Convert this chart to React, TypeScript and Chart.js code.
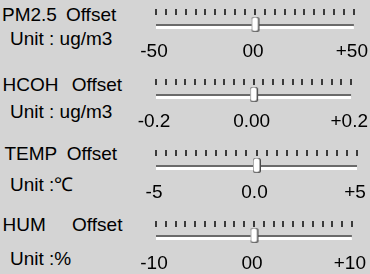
import React, { useEffect, useRef } from 'react';
import { Chart, registerables } from 'chart.js';
Chart.register(...registerables);

// ---- data ----
const titles = ['PM2.5 Offset', 'HCOH Offset', 'TEMP Offset', 'HUM    Offset'];
const units = ['Unit : ug/m3', 'Unit : ug/m3', 'Unit :℃', 'Unit :%'];
const mins = [-50, -0.2, -5, -10];
const maxs = [50, 0.2, 5, 10];
const values = [0, 0, 0, 0];
const tickLabels = [
  ['-50', '00', '+50'],
  ['-0.2', '0.00', '+0.2'],
  ['-5', '0.0', '+5'],
  ['-10', '00', '+10'],
];
const tickCount = 21;

// ---- layout (not data) ----
const rowTops = [0, 70, 141, 212];
const titleTops = [4.9, 74.9, 143.9, 214.6];
const unitTops = [28.9, 101.6, 174.9, 248.9];
const titleX = [2, 2.5, 4.5, 2.5];
const wordSpacing = [3.7, 8, 4.5, 1.3];
const labelPad = [0, 0, 0, 2];

let thumbCanvas: HTMLCanvasElement | null = null;
function rr(g: CanvasRenderingContext2D, x: number, y: number, w: number, h: number, r: number) {
  g.beginPath();
  g.moveTo(x + r, y);
  g.lineTo(x + w - r, y);
  g.arcTo(x + w, y, x + w, y + r, r);
  g.lineTo(x + w, y + h - r);
  g.arcTo(x + w, y + h, x + w - r, y + h, r);
  g.lineTo(x + r, y + h);
  g.arcTo(x, y + h, x, y + h - r, r);
  g.lineTo(x, y + r);
  g.arcTo(x, y, x + r, y, r);
  g.closePath();
}
function getThumb() {
  if (thumbCanvas) return thumbCanvas;
  const c = document.createElement('canvas');
  c.width = 11;
  c.height = 21;
  const g = c.getContext('2d')!;
  // dark shadow (right / bottom)
  g.fillStyle = '#4a4a4a';
  rr(g, 2, 0, 8, 15, 2.5);
  g.fill();
  // light outline
  g.fillStyle = '#9a9a9a';
  rr(g, 2, 0, 7, 14.5, 2.5);
  g.fill();
  // white body
  g.fillStyle = '#ffffff';
  rr(g, 2.8, 0.8, 5.4, 13, 2);
  g.fill();
  thumbCanvas = c;
  return c;
}

const groovePlugin = {
  id: 'groove',
  beforeDatasetDraw(chart: any, args: any) {
    if (args.index !== 1) return;
    const ctx = chart.ctx;
    ctx.save();
    ctx.shadowColor = '#6a6a6a';
    ctx.shadowOffsetY = -2;
    ctx.shadowOffsetX = 0;
    ctx.shadowBlur = 0;
  },
  afterDatasetDraw(chart: any, args: any) {
    if (args.index !== 1) return;
    chart.ctx.restore();
  },
};

function Slider({ i }: { i: number }) {
  const ref = useRef<HTMLCanvasElement>(null);
  useEffect(() => {
    const min = mins[i];
    const max = maxs[i];
    const chart = new Chart(ref.current!, {
      type: 'scatter',
      data: {
        datasets: [
          {
            data: [{ x: values[i], y: 0 }],
            pointStyle: getThumb() as any,
            pointRadius: 5,
            order: 0,
          } as any,
          {
            data: [{ x: min, y: 0 }, { x: max, y: 0 }],
            showLine: true,
            borderColor: '#ffffff',
            borderWidth: 3,
            pointRadius: 0,
            borderCapStyle: 'butt',
            order: 1,
          } as any,
        ],
      },
      options: {
        animation: false,
        responsive: false,
        devicePixelRatio: 1,
        events: [],
        layout: { padding: { left: 156, right: 13, top: 9, bottom: 0.2 } },
        plugins: { legend: { display: false }, tooltip: { enabled: false } },
        scales: {
          x: {
            type: 'linear',
            position: 'top',
            min,
            max,
            ticks: { display: false, stepSize: (max - min) / (tickCount - 1), maxTicksLimit: 100 },
            grid: { display: true, drawOnChartArea: false, drawTicks: true, tickLength: 6, color: '#3a3a3a', lineWidth: 2 },
            border: { display: false },
          },
          xl: {
            type: 'linear',
            position: 'bottom',
            axis: 'x',
            min,
            max,
            afterBuildTicks: (s: any) => {
              s.ticks = [min, (min + max) / 2, max].map((v) => ({ value: v }));
            },
            ticks: {
              autoSkip: false,
              maxRotation: 0,
              padding: labelPad[i],
              labelOffset: -2,
              color: '#000000',
              font: { family: 'Liberation Sans', size: 19 },
              callback: (_v: any, idx: number) => tickLabels[i][idx],
            },
            grid: { display: false, drawTicks: false },
            border: { display: false },
          } as any,
          y: { type: 'linear', display: false, min: -1, max: 1 },
        },
      } as any,
      plugins: [groovePlugin as any],
    });
    return () => chart.destroy();
  }, [i]);
  return (
    <canvas
      ref={ref}
      width={370}
      height={63 + labelPad[i]}
      style={{ position: 'absolute', left: 0, top: rowTops[i], display: 'block' }}
    />
  );
}

export default function App() {
  const textStyle: React.CSSProperties = {
    position: 'absolute',
    fontSize: 19,
    lineHeight: '19px',
    whiteSpace: 'pre',
    color: '#000',
    fontFamily: '"Liberation Sans", Arial, sans-serif',
  };
  return (
    <div
      style={{
        position: 'fixed',
        left: 0,
        top: 0,
        width: 370,
        height: 274,
        background: '#d4d4d4',
        overflow: 'hidden',
      }}
    >
      {titles.map((t, i) => (
        <React.Fragment key={i}>
          <div style={{ ...textStyle, left: titleX[i], top: titleTops[i], wordSpacing: wordSpacing[i] }}>{t}</div>
          <div style={{ ...textStyle, left: 10, top: unitTops[i] }}>{units[i]}</div>
          <Slider i={i} />
        </React.Fragment>
      ))}
    </div>
  );
}
